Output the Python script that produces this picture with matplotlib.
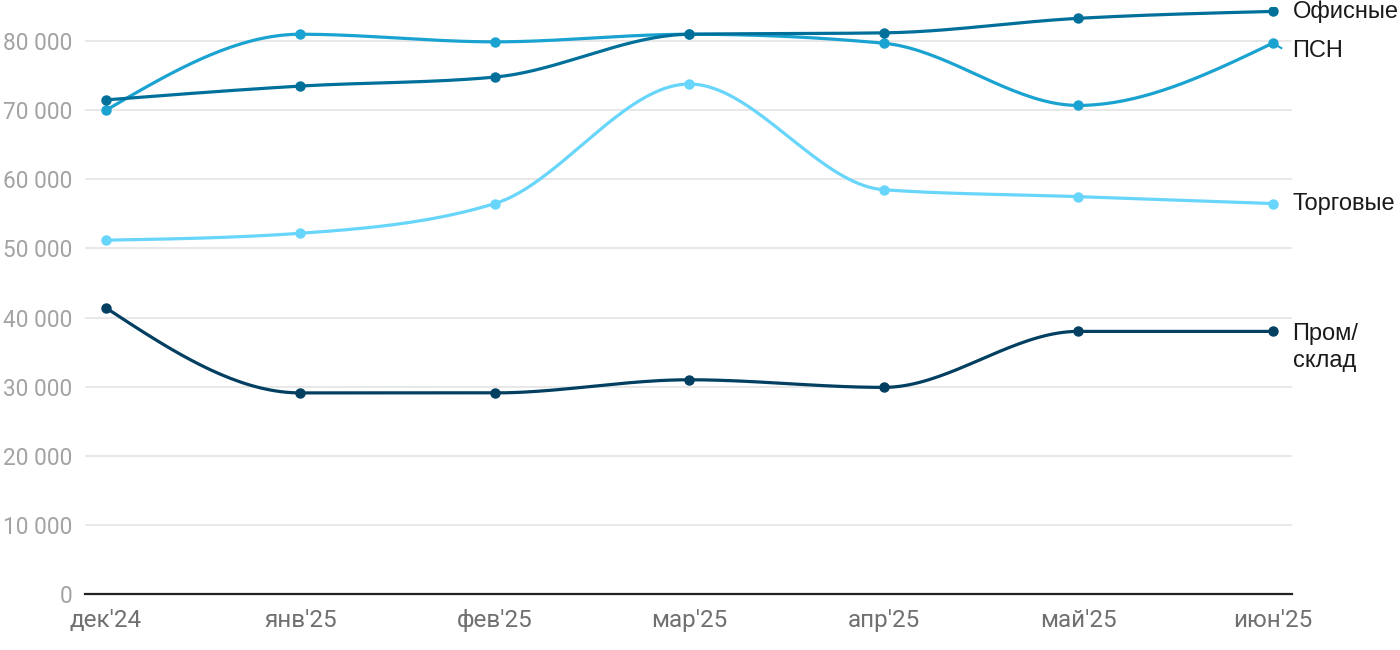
import numpy as np
import matplotlib
matplotlib.use("Agg")
import matplotlib.pyplot as plt
from matplotlib.ticker import FuncFormatter

months = ["дек'24", "янв'25", "фев'25", "мар'25", "апр'25", "май'25", "июн'25"]
office = [71500, 73500, 74800, 81000, 81200, 83300, 84300]
psn = [70000, 81000, 79900, 81000, 79700, 70700, 79700]
retail = [51200, 52200, 56500, 73800, 58500, 57500, 56500]
industrial = [41400, 29100, 29100, 31000, 29900, 38000, 38000]

series_names = ["Офисные", "ПСН", "Торговые", "Пром/\nсклад"]
colors = ["#00709b", "#1aa3d0", "#68d5fa", "#023f61"]


def monotone_x(x, y, n=40):
    x = np.asarray(x, float)
    y = np.asarray(y, float)
    h = np.diff(x)
    s = np.diff(y) / h
    m = len(x)
    t = np.zeros(m)
    for i in range(1, m - 1):
        s0, s1 = s[i - 1], s[i]
        h0, h1 = h[i - 1], h[i]
        p = (s0 * h1 + s1 * h0) / (h0 + h1)
        t[i] = (np.sign(s0) + np.sign(s1)) * min(abs(s0), abs(s1), 0.5 * abs(p))
    t[0] = (3 * s[0] - t[1]) / 2
    t[-1] = (3 * s[-1] - t[-2]) / 2
    xs, ys = [], []
    for i in range(m - 1):
        u = np.linspace(0, 1, n)
        hh = h[i]
        h00 = 2 * u**3 - 3 * u**2 + 1
        h10 = u**3 - 2 * u**2 + u
        h01 = -2 * u**3 + 3 * u**2
        h11 = u**3 - u**2
        xs.append(x[i] + u * hh)
        ys.append(h00 * y[i] + h10 * hh * t[i] + h01 * y[i + 1] + h11 * hh * t[i + 1])
    return np.concatenate(xs), np.concatenate(ys)


fig = plt.figure(figsize=(14, 6.5), dpi=100)
ax = fig.add_axes([85 / 1400, 56 / 650, (1292 - 85) / 1400, (594 - 6.6) / 650])

x = np.arange(len(months))
all_series = [office, psn, retail, industrial]
zorders = [5, 4, 3, 3]
for vals, col, z in zip(all_series, colors, zorders):
    sx, sy = monotone_x(x, vals)
    ax.plot(sx, sy, color=col, lw=2.3, solid_capstyle="round", zorder=z)
    ax.plot(x, vals, "o", color=col, ms=6.5, zorder=z + 0.5)

ax.set_xlim(-0.108, 6.1)
ax.set_ylim(0, 85000)
ax.set_yticks(np.arange(0, 80001, 10000))
ax.yaxis.set_major_formatter(FuncFormatter(lambda v, p: f"{int(v):,}".replace(",", " ")))
ax.set_xticks(x)
ax.set_xticklabels(months)

ax.grid(axis="y", color="#e2e2e2", lw=1.1)
ax.set_axisbelow(True)
for sp in ["top", "right", "left"]:
    ax.spines[sp].set_visible(False)
ax.spines["bottom"].set_color("#222222")
ax.spines["bottom"].set_linewidth(1.6)
ax.tick_params(axis="both", length=0)
ax.tick_params(axis="y", pad=9, labelsize=16.3, labelcolor="#a3a3a3")
ax.tick_params(axis="x", pad=11, labelsize=17.5, labelcolor="#707070")
for lab in ax.get_yticklabels() + ax.get_xticklabels():
    lab.set_fontfamily("Roboto")

# series labels
label_y = [84300, 78600, 56500, 35700]
for name, ly in zip(series_names, label_y):
    ax.annotate(name, xy=(6, ly), xycoords="data", xytext=(14.4, 0), textcoords="offset points",
                ha="left", va="center", fontsize=17, color="#1a1a1a",
                family="Liberation Sans", linespacing=1.28, annotation_clip=False)

# small connector for ПСН label
ax.plot([6.02, 6.045], [79400, 79000], color=colors[1], lw=1.5, clip_on=False)

fig.savefig("out.png", dpi=100)
